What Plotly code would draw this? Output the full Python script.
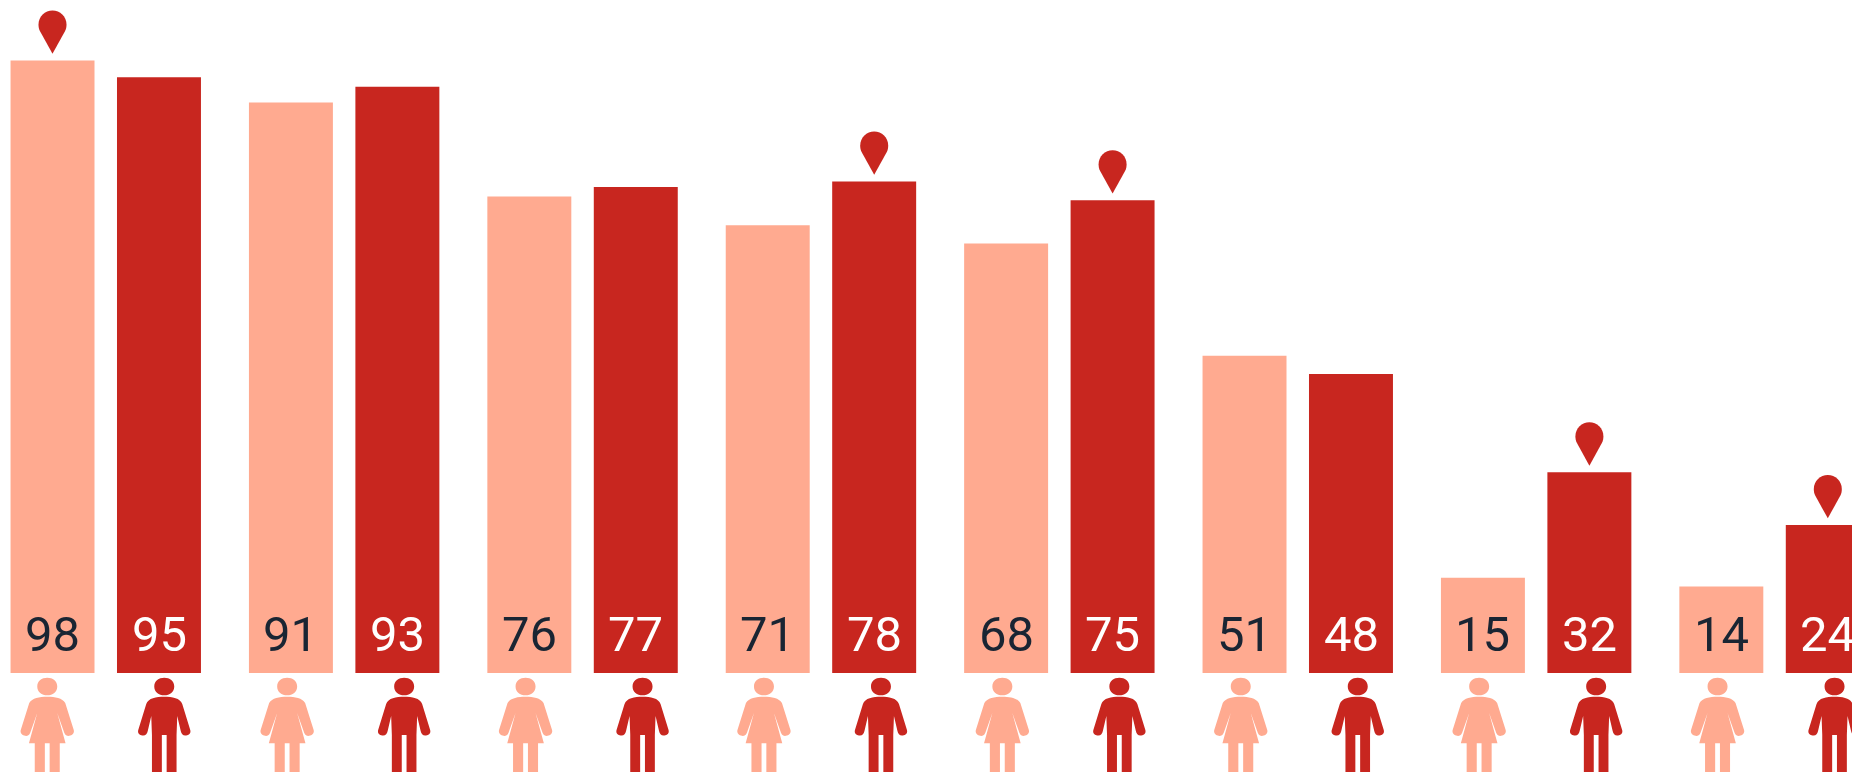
import plotly.graph_objects as go

# Data
female_labels = [98, 91, 76, 71, 68, 51, 15, 14]
male_labels = [95, 93, 77, 78, 75, 48, 32, 24]
female_values = [97.7, 91.0, 76.0, 71.4, 68.5, 50.6, 15.2, 13.8]
male_values = [95.0, 93.5, 77.5, 78.4, 75.4, 47.7, 32.0, 23.6]
female_pins = [0]
male_pins = [3, 4, 6, 7]
groups = list(range(len(female_values)))

# Style
RED = "#C8261F"
SALMON = "#FFAA90"
DARK = "#1A2533"
FONT = "Roboto"
FONT_SIZE = 49
TEXT_SHIFT = 8
W, H = 1852, 772
PERIOD = 238.4
CENTER0 = 105.75
BASE_PX = 673
PX_PER_UNIT = 6.27
BAR_OFFSET = 53.25 / PERIOD
FEMALE_ICON_PX = -57
MALE_ICON_PX = 60
FIRST_ICON_NUDGE = -1.5

HEAD = ("M0,-4.7 C5.5,-4.7 10,-8 10,-13.5 C10,-19 5.5,-22.3 0,-22.3 "
        "C-5.5,-22.3 -10,-19 -10,-13.5 C-10,-8 -5.5,-4.7 0,-4.7 Z ")
MALE_BODY = ("M0,-23.7 C8,-23.7 16,-25 18,-31 L26,-57 C27,-61 24,-62.5 21,-62.5 "
             "C18.5,-62.5 17,-60.5 16.5,-58 L13,-43 L12.3,-62 L12.3,-100 L2.4,-100 L2.4,-62 L-2.4,-62 L-2.4,-100 "
             "L-12.3,-100 L-12.3,-62 L-13,-43 L-16.5,-58 C-17,-60.5 -18.5,-62.5 -21,-62.5 C-24,-62.5 -27,-61 -26,-57 "
             "L-18,-31 C-16,-25 -8,-23.7 0,-23.7 Z")
FEMALE_BODY = ("M0,-23.7 C8,-23.7 15,-25 18,-30 L26.5,-57 C27.5,-61 24,-63 21,-63 "
               "C18.5,-63 17,-60.5 16.4,-58 L10,-40 L18.3,-70.3 L12.5,-70.3 L12.5,-100 L2.4,-100 L2.4,-70.3 "
               "L-2.4,-70.3 L-2.4,-100 L-12.5,-100 L-12.5,-70.3 L-18.3,-70.3 L-10,-40 L-16.4,-58 "
               "C-17,-60.5 -18.5,-63 -21,-63 C-24,-63 -27.5,-61 -26.5,-57 L-18,-30 C-15,-25 -8,-23.7 0,-23.7 Z")
PIN = ("M0,6.7 L-12.6,29.5 C-13.6,31.5 -14,33.5 -14,36 C-14,44 -7.5,50 0,50 "
       "C7.5,50 14,44 14,36 C14,33.5 13.6,31.5 12.6,29.5 Z")

fig = go.Figure()
fig.add_bar(x=groups, y=female_values, name="Female", marker=dict(color=SALMON, line_width=0))
fig.add_bar(x=groups, y=male_values, name="Male", marker=dict(color=RED, line_width=0))


def icon(xval, yval, path, color):
    return dict(type="path", xref="x", yref="y", xsizemode="pixel", ysizemode="pixel",
                xanchor=xval, yanchor=yval, path=path, fillcolor=color,
                line=dict(width=0), layer="above")


def shifted(path, dx):
    # move a pixel-unit path sideways
    out = []
    for tok in path.split():
        cmd = tok[0] if tok[0].isalpha() else ""
        body = tok[len(cmd):]
        if "," in body:
            a, b = body.split(",")
            out.append(f"{cmd}{float(a) + dx:g},{b}")
        else:
            out.append(tok)
    return " ".join(out)


shapes = []
annotations = []
for i in groups:
    nudge = FIRST_ICON_NUDGE if i == 0 else 0
    shapes.append(icon(i, 0, shifted(HEAD + FEMALE_BODY, FEMALE_ICON_PX + nudge), SALMON))
    shapes.append(icon(i, 0, shifted(HEAD + MALE_BODY, MALE_ICON_PX + nudge), RED))
    annotations.append(dict(x=i - BAR_OFFSET, y=0, xref="x", yref="y", text=str(female_labels[i]),
                            showarrow=False, yanchor="bottom", yshift=TEXT_SHIFT,
                            font=dict(family=FONT, size=FONT_SIZE, color=DARK)))
    annotations.append(dict(x=i + BAR_OFFSET, y=0, xref="x", yref="y", text=str(male_labels[i]),
                            showarrow=False, yanchor="bottom", yshift=TEXT_SHIFT,
                            font=dict(family=FONT, size=FONT_SIZE, color="white")))
for i in female_pins:
    shapes.append(icon(i - BAR_OFFSET, female_values[i], PIN, RED))
for i in male_pins:
    shapes.append(icon(i + BAR_OFFSET, male_values[i], PIN, RED))

fig.update_layout(
    width=W, height=H, margin=dict(l=0, r=0, t=0, b=0),
    paper_bgcolor="white", plot_bgcolor="white", showlegend=False,
    barmode="group", bargap=25.5 / PERIOD, bargroupgap=22.5 / 106.5,
    shapes=shapes, annotations=annotations,
    xaxis=dict(visible=False, range=[-CENTER0 / PERIOD, (W - CENTER0) / PERIOD]),
    yaxis=dict(visible=False, range=[-(H - BASE_PX) / PX_PER_UNIT, BASE_PX / PX_PER_UNIT]),
)
fig.write_html("out.html", config=dict(displayModeBar=False),
               post_script="document.body.style.margin='0';document.body.style.overflow='hidden';")
